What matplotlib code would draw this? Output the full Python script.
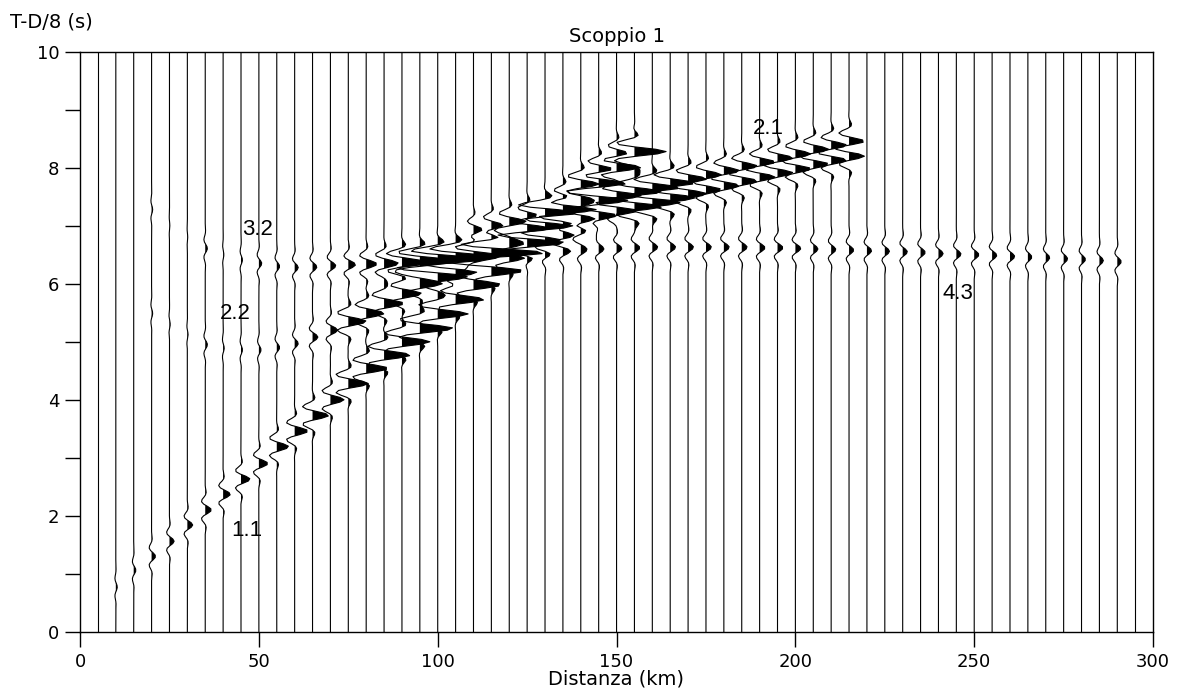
import numpy as np
import matplotlib.pyplot as plt

# =========================
# Record section: stations and picked phases
# =========================
trace_km = list(range(5, 300, 5))

# phase 1.1 (direct wave, layer 1)
p11_km = list(range(10, 160, 5))
p11_t = [0.77, 1.06, 1.30, 1.56, 1.84, 2.10, 2.37, 2.63, 2.90, 3.19,
         3.46, 3.73, 4.00, 4.28, 4.54, 4.77, 5.00, 5.23, 5.48, 5.73,
         5.98, 6.22, 6.46, 6.74, 7.02, 7.27, 7.50, 7.75, 8.02, 8.28]
p11_amp = [0.4, 0.6, 1.1, 1.3, 1.5, 1.7, 2.0, 2.5, 2.5, 3.3,
           3.7, 4.5, 3.8, 5.6, 6.1, 7.3, 7.8, 9.3, 8.5, 8.0,
           7.5, 7.0, 7.0, 7.5, 7.5, 8.0, 8.0, 8.5, 8.5, 9.3]

# phase 2.2 (reflection, interface 2)
p22_km = list(range(20, 160, 5))
p22_t = [5.49, 5.30, 5.12, 4.95, 4.89, 4.86, 4.86, 4.90, 4.97, 5.08,
         5.20, 5.35, 5.49, 5.66, 5.83, 6.00, 6.12, 6.22, 6.36, 6.52,
         6.72, 6.96, 7.20, 7.45, 7.70, 7.95, 8.22, 8.47]
p22_amp = [0.3, 0.2, 0.2, 0.6, 0.3, 0.4, 0.6, 0.8, 1.0, 1.5,
           2.0, 5.0, 5.0, 5.5, 5.5, 6.0, 6.5, 6.5, 6.0, 6.0,
           6.5, 7.0, 7.0, 7.0, 7.0, 6.0, 5.0, 1.0]

# phase 3.2 (reflection, interface 3)
p32_km = list(range(20, 155, 5))
p32_t = [7.28, 7.00, 6.80, 6.61, 6.50, 6.41, 6.35, 6.30, 6.28, 6.29,
         6.31, 6.33, 6.34, 6.35, 6.37, 6.39, 6.42, 6.45, 6.50, 6.56,
         6.63, 6.70, 6.78, 6.86, 6.95, 7.04, 7.13]
p32_amp = [0.3, 0.1, 0.1, 0.6, 0.2, 0.4, 0.8, 0.8, 1.0, 1.2,
           1.5, 2.0, 3.0, 4.0, 7.0, 10.0, 12.0, 12.0, 11.0, 9.0,
           8.0, 7.0, 6.0, 5.0, 4.0, 3.0, 2.0]

# phase 2.1 (refraction along interface 2), double pulse
p21_km = list(range(110, 220, 5))
p21_t = [6.70, 6.77, 6.84, 6.92, 6.99, 7.06, 7.13, 7.20, 7.28, 7.35,
         7.42, 7.50, 7.57, 7.64, 7.71, 7.79, 7.86, 7.93, 8.00, 8.08,
         8.15, 8.22]
p21_t2 = [6.92, 6.99, 7.06, 7.14, 7.21, 7.28, 7.35, 7.42, 7.50, 7.57,
          7.64, 7.72, 7.79, 7.86, 7.93, 8.01, 8.08, 8.15, 8.22, 8.30,
          8.37, 8.44]
p21_amp = [3.0, 4.0, 5.0, 6.0, 7.0, 7.0, 7.0, 8.0, 8.0, 9.0,
           9.0, 8.0, 6.0, 5.0, 5.0, 5.0, 5.0, 5.0, 5.0, 5.0,
           5.0, 5.0]

# phase 4.3 (refraction, layer 4)
p43_km = list(range(110, 295, 5))
p43_t = [6.45, 6.47, 6.50, 6.52, 6.55, 6.57, 6.58, 6.60, 6.61, 6.62,
         6.63, 6.63, 6.63, 6.63, 6.63, 6.63, 6.62, 6.62, 6.61, 6.60,
         6.59, 6.58, 6.57, 6.56, 6.55, 6.54, 6.52, 6.51, 6.50, 6.49,
         6.47, 6.46, 6.45, 6.43, 6.42, 6.40, 6.38]
p43_amp = [1.5] * 19 + [1.3] * 12 + [1.1] * 6

phase_names = ["1.1", "2.2", "3.2", "2.1", "4.3"]
label_km = [46.5, 43.5, 49.5, 192.5, 245.5]
label_t = [1.75, 5.48, 6.94, 8.67, 5.84]

phases = [
    (p11_km, p11_t, p11_amp),
    (p22_km, p22_t, p22_amp),
    (p32_km, p32_t, p32_amp),
    (p21_km, p21_t, p21_amp),
    (p21_km, p21_t2, p21_amp),
    (p43_km, p43_t, p43_amp),
]


def wavelet(tau, f=3.0, sigma=0.23):
    return np.exp(-(tau / sigma) ** 2) * np.cos(2 * np.pi * f * tau)


# =========================
# Figure
# =========================
plt.rcParams["font.family"] = ["DejaVu Sans"]

fig = plt.figure(figsize=(11.79, 6.91), dpi=100)
ax = fig.add_axes([0.0679, 0.0858, 0.978 - 0.0679, 0.925 - 0.0858])

# coarse sampling keeps the wiggles angular
t = np.arange(0, 10.0001, 0.04)
for d in trace_km:
    s = np.zeros_like(t)
    for km, tt, amp in phases:
        if d in km:
            i = km.index(d)
            s += amp[i] * wavelet(t - tt[i])
    x = d + s
    ax.fill_betweenx(t, d, x, where=s > 0, interpolate=True,
                     color="black", linewidth=0, zorder=2)
    ax.plot(x, t, color="black", lw=0.8, zorder=3)

for name, xk, tk in zip(phase_names, label_km, label_t):
    ax.text(xk, tk, name, ha="center", va="center", fontsize=16,
            family="Liberation Sans", zorder=1)

ax.set_xlim(0, 300)
ax.set_ylim(0, 10)
ax.set_xticks([0, 50, 100, 150, 200, 250, 300])
ax.set_yticks([0, 2, 4, 6, 8, 10])
ax.set_yticks([1, 3, 5, 7, 9], minor=True)
ax.tick_params(axis="both", which="both", direction="out", length=11,
               width=1, labelsize=13)
ax.tick_params(axis="x", pad=4)
ax.tick_params(axis="y", pad=4)
for sp in ax.spines.values():
    sp.set_linewidth(1)

ax.set_title("Scoppio 1", fontsize=14, pad=7)
fig.text(0.5223, 1 - 679 / 691, "Distanza (km)", fontsize=14,
         ha="center", va="center")
fig.text(10 / 1179, 1 - 22 / 691, "T-D/8 (s)", fontsize=14,
         ha="left", va="center")

fig.savefig("out.png", dpi=100)
